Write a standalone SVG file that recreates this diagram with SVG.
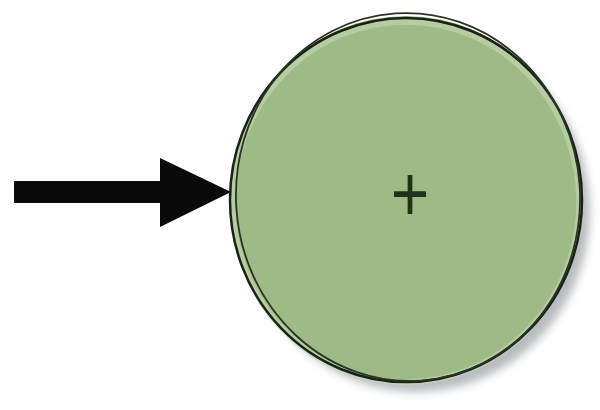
<svg xmlns="http://www.w3.org/2000/svg" width="600" height="410" viewBox="0 0 600 410">
<defs>
<filter id="blur" x="-20%" y="-20%" width="140%" height="140%"><feGaussianBlur stdDeviation="4"/></filter>
<style>
.outline{fill:none;stroke:#1a2216;stroke-width:2.5}
.outline2{fill:none;stroke:#2a3326;stroke-width:1.8}
.label{font-family:"Liberation Sans",Arial,sans-serif;font-size:66px;fill:#1e3318;text-anchor:middle}
</style>
</defs>
<rect width="600" height="410" fill="#ffffff"/>
<g id="connectors">
<path d="M14,181 L160,181 L160,158 L231,192 L160,227 L160,203 L14,203 Z" fill="#0a0a0a"/>
</g>
<g id="node-plus">
<ellipse cx="416" cy="211" rx="174" ry="181" fill="#b9bcbf" filter="url(#blur)"/>
<ellipse cx="406" cy="199" rx="176" ry="183" fill="#9eba86"/>
<ellipse cx="406" cy="199" rx="176" ry="183" fill="none" stroke="#c7dbb5" stroke-width="6" opacity="0.6" transform="translate(2,3) scale(0.985) translate(4,3)"/>
<ellipse class="outline" cx="406" cy="200" rx="176" ry="182"/>
<ellipse class="outline2" cx="408" cy="197" rx="172" ry="184" transform="rotate(-4 408 197)"/>
<text class="label" x="410" y="220" transform="scale(1 1.2) translate(0 -36)">+</text>
</g>
</svg>
